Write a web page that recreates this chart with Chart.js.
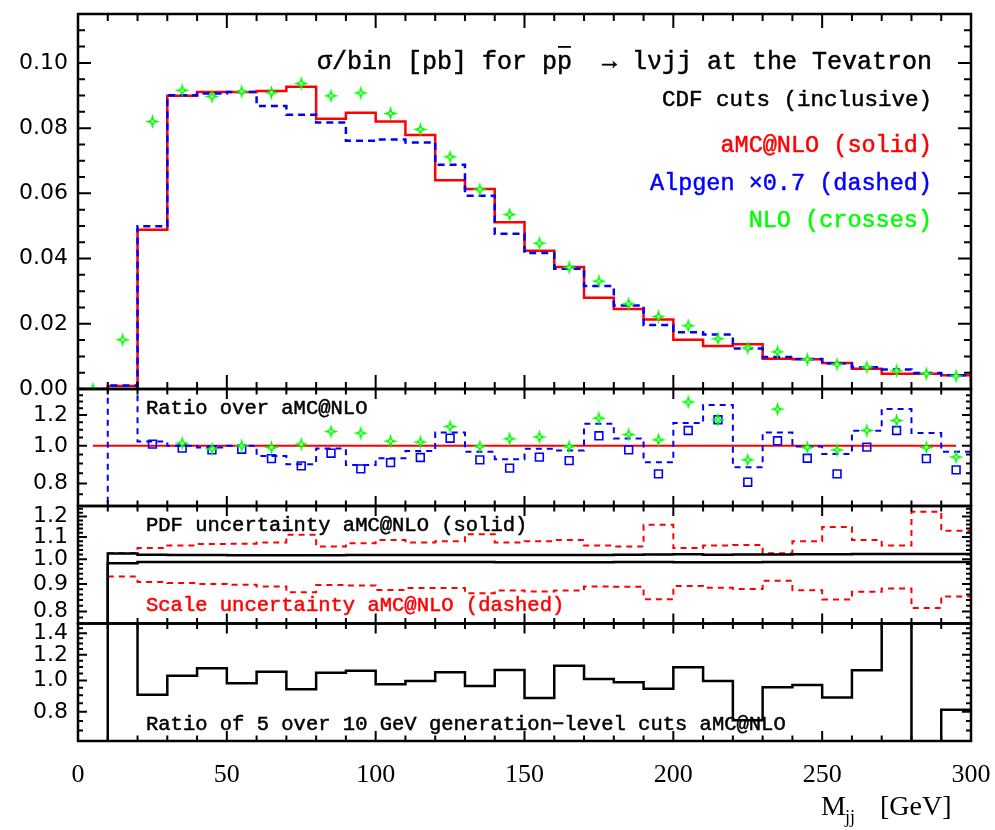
<!DOCTYPE html>
<html>
<head>
<meta charset="utf-8">
<script src="https://cdn.jsdelivr.net/npm/chart.js@4.4.0/dist/chart.umd.min.js"></script>
<style>
  html, body { margin: 0; padding: 0; background: #fff; }
  #wrap { position: relative; width: 995px; height: 830px; overflow: hidden; }
  #wrap canvas { position: absolute; left: 0; }
</style>
</head>
<body>
<div id="wrap">
  <canvas id="p1" width="995" height="403" style="top:0px"></canvas>
  <canvas id="p2" width="995" height="145" style="top:375px"></canvas>
  <canvas id="p3" width="995" height="145" style="top:492px"></canvas>
  <canvas id="p4" width="995" height="221" style="top:609px"></canvas>
</div>
<script>
// bins of 10 GeV in M_jj
const binEdges = [0, 10, 20, 30, 40, 50, 60, 70, 80, 90, 100, 110, 120, 130, 140, 150,
  160, 170, 180, 190, 200, 210, 220, 230, 240, 250, 260, 270, 280, 290, 300];
const binCenters = [5, 15, 25, 35, 45, 55, 65, 75, 85, 95, 105, 115, 125, 135, 145, 155,
  165, 175, 185, 195, 205, 215, 225, 235, 245, 255, 265, 275, 285, 295];

// panel 1: sigma/bin [pb]
const amcNLO = [0, 0.0009, 0.0488, 0.0899, 0.0911, 0.0911, 0.0914, 0.0927, 0.0829, 0.0847,
  0.0820, 0.0779, 0.0640, 0.0613, 0.0511, 0.0424, 0.0374, 0.0280, 0.0245, 0.0213,
  0.0151, 0.0132, 0.0137, 0.0093, 0.0091, 0.0080, 0.0062, 0.0047, 0.0047, 0.0042];
const alpgen = [0, 0.0011, 0.0499, 0.0901, 0.0906, 0.0911, 0.0868, 0.0841, 0.0817, 0.0761,
  0.0765, 0.0756, 0.0688, 0.0593, 0.0476, 0.0417, 0.0369, 0.0316, 0.0256, 0.0196,
  0.0174, 0.0167, 0.0124, 0.0098, 0.0092, 0.0078, 0.0067, 0.0060, 0.0049, 0.0042];
const nlo = [0, 0.0151, 0.0820, 0.0916, 0.0897, 0.0912, 0.0909, 0.0937, 0.0899, 0.0908,
  0.0845, 0.0796, 0.0712, 0.0612, 0.0535, 0.0447, 0.0373, 0.0331, 0.0261, 0.0222,
  0.0194, 0.0154, 0.0126, 0.0114, 0.0091, 0.0076, 0.0067, 0.0056, 0.0047, 0.0040];

// panel 2: ratio over aMC@NLO (0.3 / 3 = off scale)
const ratioRef = [1, 1, 1, 1, 1, 1, 1, 1, 1, 1, 1, 1, 1, 1, 1,
  1, 1, 1, 1, 1, 1, 1, 1, 1, 1, 1, 1, 1, 1, 1];
const ratioAlpgen = [0.3, 3, 1.026, 1.0, 0.99, 1.0, 0.942, 0.897, 0.984, 0.893,
  0.929, 0.970, 1.082, 0.965, 0.924, 0.982, 0.972, 1.139, 1.044, 0.907,
  1.144, 1.273, 0.881, 1.082, 0.996, 0.953, 1.093, 1.243, 1.078, 0.966];
const ratioSquares = [null, null, 1.01, 0.986, 0.976, 0.98, 0.927, 0.888, 0.957, 0.872,
  0.905, 0.933, 1.046, 0.920, 0.876, 0.935, 0.916, 1.061, 0.976, 0.847,
  1.095, 1.167, 0.806, 1.03, 0.929, 0.847, 0.992, 1.095, 0.927, 0.867];
const ratioNLO = [null, null, null, 1.016, 0.982, 1.0, 0.99, 1.01, 1.088, 1.078,
  1.028, 1.022, 1.121, 0.996, 1.042, 1.054, 0.996, 1.178, 1.069, 1.036,
  1.296, 1.167, 0.920, 1.243, 0.99, 0.976, 1.095, 1.162, 0.99, 0.936];

// panel 3: uncertainty bands
const pdfUp = [0.5, 1.025, 1.019, 1.018, 1.018, 1.017, 1.017, 1.017, 1.017, 1.018,
  1.018, 1.018, 1.018, 1.018, 1.018, 1.018, 1.018, 1.018, 1.019, 1.020,
  1.021, 1.019, 1.020, 1.020, 1.021, 1.021, 1.022, 1.023, 1.023, 1.023];
const pdfDown = [0.5, 0.983, 0.988, 0.988, 0.988, 0.988, 0.988, 0.988, 0.988, 0.988,
  0.988, 0.988, 0.988, 0.988, 0.987, 0.987, 0.987, 0.987, 0.988, 0.988,
  0.987, 0.987, 0.987, 0.988, 0.988, 0.988, 0.988, 0.988, 0.988, 0.988];
const scaleUp = [null, 1.027, 1.049, 1.060, 1.067, 1.068, 1.074, 1.110, 1.056, 1.071,
  1.085, 1.074, 1.080, 1.113, 1.074, 1.080, 1.086, 1.060, 1.056, 1.158,
  1.049, 1.060, 1.063, 1.026, 1.080, 1.148, 1.085, 1.060, 1.224, 1.129];
const scaleDown = [null, 0.929, 0.907, 0.903, 0.900, 0.897, 0.890, 0.868, 0.896, 0.894,
  0.877, 0.884, 0.884, 0.865, 0.875, 0.871, 0.875, 0.890, 0.889, 0.843,
  0.892, 0.885, 0.881, 0.912, 0.876, 0.842, 0.870, 0.882, 0.812, 0.853];

// panel 4: ratio of 5 over 10 GeV generation-level cuts
const cutRatio = [0.5, 2, 0.903, 1.034, 1.090, 0.980, 1.064, 0.940, 1.056, 1.072,
  0.973, 0.997, 1.060, 0.962, 1.077, 0.882, 1.110, 1.011, 0.987, 0.942,
  1.098, 0.997, 0.753, 0.953, 0.969, 0.886, 1.075, 2, 0.5, 0.812];

// axis ticks
const xLabels = [0, 50, 100, 150, 200, 250, 300];
const yLabels1 = [0, 0.02, 0.04, 0.06, 0.08, 0.10];
const yLabels2 = [0.8, 1.0, 1.2];
const yLabels3 = [0.8, 0.9, 1.0, 1.1, 1.2];
const yLabels4 = [0.8, 1.0, 1.2, 1.4];

const RED = '#ff0000', BLUE = '#0000ff', GREEN = '#00ff00';

function hist(vals, tail) {
  const pts = [];
  vals.forEach((v, i) => { if (v !== null) pts.push({ x: binEdges[i], y: v }); });
  pts.push({ x: 300, y: vals[vals.length - 1] });
  if (tail !== undefined) pts.push({ x: 300, y: tail });
  return pts;
}
function marks(vals) {
  return vals.map((v, i) => ({ x: binCenters[i], y: v })).filter(p => p.y !== null);
}
function steps(lo, hi, step) {
  const out = [];
  for (let v = lo; v <= hi + 1e-9; v += step) out.push(+v.toFixed(4));
  return out;
}

// 4-pointed star marker for NLO
function makeStar() {
  const c = document.createElement('canvas');
  c.width = 17; c.height = 17;
  const g = c.getContext('2d');
  const cx = 8.5, cy = 8.5;
  g.fillStyle = GREEN;
  g.beginPath();
  for (let k = 0; k < 8; k++) {
    const ang = k * Math.PI / 4 - Math.PI / 2;
    const r = k % 2 === 0 ? 7.5 : 2.4;
    g.lineTo(cx + r * Math.cos(ang), cy + r * Math.sin(ang));
  }
  g.closePath();
  g.fill();
  g.fillStyle = '#fff';
  g.beginPath();
  g.arc(cx, cy, 1.2, 0, 2 * Math.PI);
  g.fill();
  return c;
}
const star = makeStar();

function line(data, color, width, dash) {
  return { data, borderColor: color, borderWidth: width, borderDash: dash || [],
    stepped: true, pointRadius: 0, fill: false };
}
function points(data, style, color, radius) {
  return { data, showLine: false, pointStyle: style, pointRadius: radius,
    pointBorderColor: color, pointBackgroundColor: 'rgba(0,0,0,0)', pointBorderWidth: 1.6 };
}

function yAxis(type, min, max, labels, digits) {
  return {
    type, min, max, bounds: 'data',
    afterFit: s => { s.width = 78; s.paddingTop = 0; s.paddingBottom = 0; },
    afterBuildTicks: s => { s.ticks = labels.map(v => ({ value: v })); },
    grid: { display: false, drawTicks: false },
    border: { display: false },
    ticks: { color: '#000', padding: 10, autoSkip: false,
      font: { family: 'DejaVu Sans', size: 22 },
      callback: v => Number(v).toFixed(digits) }
  };
}

function deco(d) {
  const near = (a, b) => Math.abs(a - b) < 1e-6;
  return {
    id: 'deco',
    beforeDatasetsDraw(chart) {
      const ctx = chart.ctx;
      ctx.save();
      d.texts.forEach(t => {
        ctx.font = t.size + 'px "Liberation Mono"';
        ctx.fillStyle = t.color || '#000';
        ctx.strokeStyle = t.color || '#000';
        ctx.lineWidth = 0.5;
        ctx.textAlign = t.align || 'left';
        ctx.textBaseline = 'middle';
        const y = t.y - d.top;
        ctx.fillText(t.text, t.x, y);
        ctx.strokeText(t.text, t.x, y);
        if (t.bar) {
          const w = ctx.measureText(t.text).width;
          const x0 = t.x - w + ctx.measureText(t.text.slice(0, t.bar)).width;
          const cw = ctx.measureText(t.text[t.bar]).width;
          ctx.fillRect(x0 + 1, y - t.size * 0.64, cw - 2, 1.8);
        }
      });
      ctx.restore();
    },
    afterDraw(chart) {
      const { ctx, chartArea: a } = chart;
      const xs = chart.scales.x, ys = chart.scales.y;
      ctx.save();
      ctx.strokeStyle = '#000';
      ctx.lineWidth = 2;
      ctx.beginPath();
      binEdges.forEach(v => {
        const px = xs.getPixelForValue(v);
        const L = xLabels.includes(v) ? d.xMajor : d.xMinor;
        ctx.moveTo(px, a.top); ctx.lineTo(px, a.top + L);
        ctx.moveTo(px, a.bottom); ctx.lineTo(px, a.bottom - L);
      });
      d.yTicks.forEach(v => {
        const py = ys.getPixelForValue(v);
        if (py < a.top - 0.5 || py > a.bottom + 0.5) return;
        const L = d.yMajor.some(m => near(m, v)) ? d.yMajorLen : d.yMinorLen;
        ctx.moveTo(a.left, py); ctx.lineTo(a.left + L, py);
        ctx.moveTo(a.right, py); ctx.lineTo(a.right - L, py);
      });
      ctx.stroke();
      ctx.lineWidth = 2.5;
      ctx.strokeRect(a.left, a.top, a.right - a.left, a.bottom - a.top);
      if (d.xTitle) {
        ctx.fillStyle = '#000';
        ctx.textBaseline = 'alphabetic';
        ctx.textAlign = 'left';
        ctx.font = '28px "Liberation Serif"';
        ctx.fillText('M', 821, 815 - d.top);
        ctx.font = '18px "Liberation Serif"';
        ctx.fillText('jj', 845, 823 - d.top);
        ctx.font = '28px "Liberation Serif"';
        ctx.fillText('[GeV]', 880, 815 - d.top);
      }
      ctx.restore();
    }
  };
}

function panel(id, top, pad, yScale, datasets, d, showX) {
  d.top = top;
  return new Chart(document.getElementById(id), {
    type: 'line',
    data: { datasets },
    options: {
      responsive: false, animation: false, devicePixelRatio: 1,
      layout: { autoPadding: false, padding: { left: 0, right: 24, top: pad[0], bottom: pad[1] } },
      plugins: { legend: { display: false }, tooltip: { enabled: false } },
      scales: {
        x: {
          type: 'linear', min: 0, max: 300, bounds: 'data', display: showX,
          afterFit: s => { if (showX) { s.height = 89; s.paddingLeft = 0; s.paddingRight = 0; } },
          afterBuildTicks: s => { s.ticks = xLabels.map(v => ({ value: v })); },
          grid: { display: false, drawTicks: false },
          border: { display: false },
          ticks: { color: '#000', padding: 19, maxRotation: 0, autoSkip: false,
            font: { family: 'Liberation Serif', size: 26 } }
        },
        y: yScale
      }
    },
    plugins: [deco(d)]
  });
}

panel('p1', 0, [14, 14], yAxis('linear', 0, 0.115, yLabels1, 2), [
  points(marks(nlo), star, GREEN, 7),
  line(hist(alpgen, 0), BLUE, 2.5, [7, 5]),
  line(hist(amcNLO, 0), RED, 2.5)
], {
  xMajor: 14, xMinor: 7, yMajorLen: 13, yMinorLen: 7,
  yMajor: yLabels1, yTicks: steps(0, 0.115, 0.005),
  texts: [
    { text: 'σ/bin [pb] for pp  → lνjj at the Tevatron', x: 932, y: 62, size: 25, align: 'right', bar: 16 },
    { text: 'CDF cuts (inclusive)', x: 932, y: 100, size: 22.5, align: 'right' },
    { text: 'aMC@NLO (solid)', x: 932, y: 146, size: 23.5, align: 'right', color: RED },
    { text: 'Alpgen ×0.7 (dashed)', x: 932, y: 184, size: 23.5, align: 'right', color: BLUE },
    { text: 'NLO (crosses)', x: 932, y: 221, size: 23.5, align: 'right', color: GREEN }
  ]
}, false);

panel('p2', 375, [14, 14], yAxis('logarithmic', 0.7, 1.4, yLabels2, 1), [
  points(marks(ratioNLO), star, GREEN, 7),
  points(marks(ratioSquares), 'rect', BLUE, 5.5),
  line(hist(ratioAlpgen, 0.3), BLUE, 2, [6, 5]),
  { data: marks(ratioRef), borderColor: RED, borderWidth: 2, pointRadius: 0, fill: false }
], {
  xMajor: 10, xMinor: 5.5, yMajorLen: 9, yMinorLen: 5,
  yMajor: yLabels2, yTicks: steps(0.7, 1.4, 0.05),
  texts: [{ text: 'Ratio over aMC@NLO', x: 146, y: 409, size: 20.5 }]
}, false);

panel('p3', 492, [14, 13.5], yAxis('logarithmic', 0.76, 1.255, yLabels3, 1), [
  line(hist(pdfUp), '#000', 2.5),
  line(hist(pdfDown), '#000', 2.5),
  line(hist(scaleUp), RED, 2, [6, 5]),
  line(hist(scaleDown), RED, 2, [6, 5])
], {
  xMajor: 10, xMinor: 5.5, yMajorLen: 9, yMinorLen: 5,
  yMajor: yLabels3, yTicks: steps(0.76, 1.25, 0.02),
  texts: [
    { text: 'PDF uncertainty aMC@NLO (solid)', x: 146, y: 526, size: 20.5 },
    { text: 'Scale uncertainty aMC@NLO (dashed)', x: 146, y: 606, size: 20.5, color: RED }
  ]
}, false);

panel('p4', 609, [14.5, 0], yAxis('logarithmic', 0.65, 1.5, yLabels4, 1), [
  line(hist(cutRatio), '#000', 2.5)
], {
  xMajor: 10, xMinor: 5.5, yMajorLen: 9, yMinorLen: 5,
  yMajor: yLabels4, yTicks: steps(0.65, 1.5, 0.05),
  xTitle: true,
  texts: [{ text: 'Ratio of 5 over 10 GeV generation−level cuts aMC@NLO', x: 146, y: 725, size: 20.5 }]
}, true);
</script>
</body>
</html>
